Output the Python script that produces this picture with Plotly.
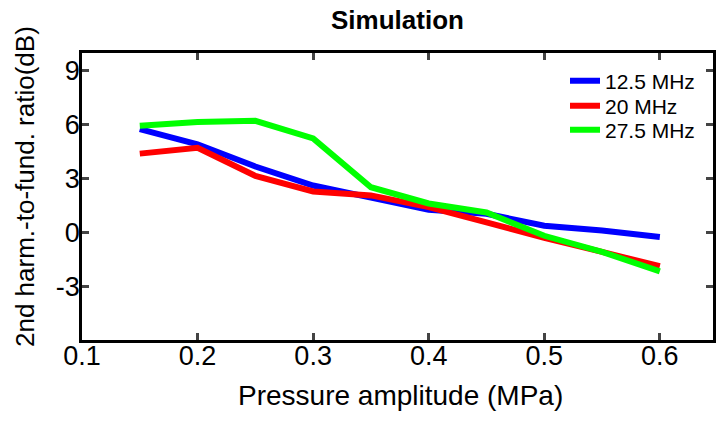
import plotly.graph_objects as go

pressure = [0.15, 0.2, 0.25, 0.3, 0.35, 0.4, 0.45, 0.5, 0.55, 0.6]
ratio_12_5 = [5.76, 4.91, 3.67, 2.61, 1.94, 1.26, 1.04, 0.37, 0.11, -0.26]
ratio_20 = [4.39, 4.72, 3.15, 2.28, 2.06, 1.41, 0.56, -0.31, -1.09, -1.89]
ratio_27_5 = [5.94, 6.15, 6.22, 5.24, 2.52, 1.61, 1.11, -0.19, -1.09, -2.17]

x_ticks = [0.1, 0.2, 0.3, 0.4, 0.5, 0.6]
y_ticks = [-3, 0, 3, 6, 9]

series = [
    ("12.5 MHz", ratio_12_5, "#0000FF"),
    ("20 MHz", ratio_20, "#FF0000"),
    ("27.5 MHz", ratio_27_5, "#00FF00"),
]

_FONT = "Liberation Sans, Arial, sans-serif"
# page body has an 8px margin, so the figure is a bit smaller than the window
_W, _H = 718, 416
_L, _R, _T, _B = 74, 13, 45, 84
_PW, _PH = _W - _L - _R, _H - _T - _B
_LEGEND_ROWS = [73, 98, 122]  # figure px, centre of each legend row

fig = go.Figure()
legend_layout = {}
for i, (name, values, color) in enumerate(series):
    legend_name = "legend" if i == 0 else f"legend{i + 1}"
    fig.add_trace(
        go.Scatter(
            x=pressure,
            y=values,
            name=name,
            mode="lines",
            line={"color": color, "width": 6},
            legend=legend_name,
            showlegend=True,
        )
    )
    legend_layout[legend_name] = {
        "x": (557 - _L) / _PW,
        "y": 1 - (_LEGEND_ROWS[i] - _T) / _PH,
        "xanchor": "left",
        "yanchor": "middle",
        "bgcolor": "rgba(0,0,0,0)",
        "font": {"size": 21},
        "itemwidth": 30,
        "visible": True,
    }

fig.update_layout(
    width=_W,
    height=_H,
    showlegend=True,
    margin=dict(l=_L, r=_R, t=_T, b=_B, autoexpand=False),
    plot_bgcolor="white",
    paper_bgcolor="white",
    font={"family": _FONT, "color": "black", "size": 27},
    annotations=[
        dict(
            text="<b>Simulation</b>",
            xref="paper",
            yref="paper",
            x=0.5,
            y=1 + (_T - 12) / _PH,
            xanchor="center",
            yanchor="middle",
            showarrow=False,
            font={"size": 26},
        ),
        dict(
            text="Pressure amplitude (MPa)",
            xref="paper",
            yref="paper",
            x=(393 - _L) / _PW,
            y=-(387 - (_H - _B)) / _PH,
            xanchor="center",
            yanchor="middle",
            showarrow=False,
            font={"size": 28},
        ),
        dict(
            text="2nd harm.-to-fund. ratio(dB)",
            xref="paper",
            yref="paper",
            x=-(_L - 17) / _PW,
            y=((_H - _B) - 179) / _PH,
            xanchor="center",
            yanchor="middle",
            textangle=-90,
            showarrow=False,
            font={"size": 26},
        ),
    ],
    **legend_layout,
)
fig.update_xaxes(
    range=[0.1, 0.646],
    tickvals=x_ticks,
    ticktext=[str(v) for v in x_ticks],
    ticks="inside",
    ticklen=7,
    tickwidth=2.5,
    ticklabelstandoff=-10,
    showline=True,
    linewidth=2.5,
    linecolor="black",
    mirror="ticks",
    showgrid=False,
    zeroline=False,
    tickfont={"size": 27},
)
fig.update_yaxes(
    range=[-6, 10],
    tickvals=y_ticks,
    ticktext=[str(v) for v in y_ticks],
    ticks="inside",
    ticklen=7,
    tickwidth=2.5,
    ticklabelstandoff=-6,
    showline=True,
    linewidth=2.5,
    linecolor="black",
    mirror="ticks",
    showgrid=False,
    zeroline=False,
    tickfont={"size": 27},
)

fig.write_html("out.html")
